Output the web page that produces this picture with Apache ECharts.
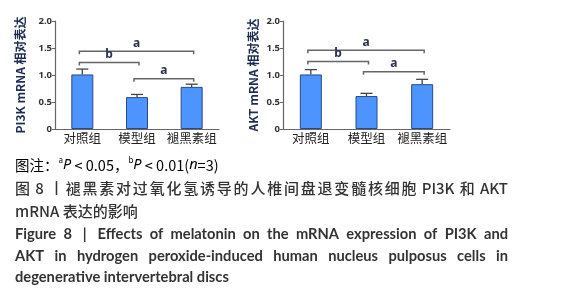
<!DOCTYPE html>
<html><head><meta charset="utf-8">
<script src="https://cdn.jsdelivr.net/npm/echarts@6/dist/echarts.min.js"></script>
<style>html,body{margin:0;padding:0;background:#fff}#c{width:588px;height:300px}</style>
</head><body><div id="c"></div>
<script>
const categories = ['对照组', '模型组', '褪黑素组'];
const yTicks = [0, 0.5, 1.0, 1.5, 2.0];
const pi3kValues = [1.01, 0.59, 0.78];
const pi3kErrors = [0.10, 0.05, 0.05];
const aktValues = [1.01, 0.61, 0.83];
const aktErrors = [0.09, 0.05, 0.09];
// brackets: [fromIndex, toIndex, height]
const pi3kBrackets = [[0, 2, 1.44], [0, 1, 1.23], [1, 2, 0.93]];
const aktBrackets = [[0, 2, 1.46], [0, 1, 1.25], [1, 2, 1.06]];
const bracketLabels = ['a', 'b', 'a'];
const yNames = ['PI3K mRNA 相对表达', 'AKT mRNA 相对表达'];

const caption1 = '图注：';
const caption2 = '图 8 丨褪黑素对过氧化氢诱导的人椎间盘退变髓核细胞 PI3K 和 AKT';
const caption3 = 'mRNA 表达的影响';
const caption4 = 'Figure 8  |  Effects of melatonin on the mRNA expression of PI3K and';
const caption5 = 'AKT in hydrogen peroxide-induced human nucleus pulposus cells in';
const caption6 = 'degenerative intervertebral discs';

const chart = echarts.init(document.getElementById('c'));

const grids = [
  {left: 55, top: 21, width: 164, height: 108},
  {left: 283, top: 21, width: 167, height: 108}
];

function xAxis(i) {
  return {
    type: 'category', gridIndex: i, data: categories,
    axisLine: {lineStyle: {color: '#666', width: 1.2}},
    axisTick: {alignWithLabel: true, length: 2, lineStyle: {color: '#666'}},
    axisLabel: {color: '#222', fontSize: 12.5, margin: 3, interval: 0, fontFamily: 'Noto Sans CJK SC'}
  };
}
function yAxis(i, gap) {
  return {
    type: 'value', gridIndex: i, min: yTicks[0], max: yTicks[yTicks.length - 1], interval: 0.5,
    name: yNames[i], nameLocation: 'middle', nameGap: gap, nameRotate: 90,
    nameTextStyle: {color: '#1f2d55', fontSize: 12, fontWeight: 'bold', fontFamily: 'Noto Sans CJK SC'},
    axisLine: {show: true, lineStyle: {color: '#666', width: 1.2}},
    axisTick: {show: true, length: 3, lineStyle: {color: '#666'}},
    splitLine: {show: false},
    axisLabel: {color: '#333', fontSize: 9.5, fontWeight: 'bold', margin: 3, fontFamily: 'Noto Sans',
      formatter: v => v === 0 ? '0' : v.toFixed(1)}
  };
}

function barSeries(i, vals) {
  return {
    type: 'bar', xAxisIndex: i, yAxisIndex: i, data: vals, barWidth: 22,
    itemStyle: {color: '#4d94ff', borderColor: '#2a4a85', borderWidth: 1}
  };
}
function errSeries(i, vals, errs) {
  return {
    type: 'custom', xAxisIndex: i, yAxisIndex: i, z: 5,
    data: vals.map((v, k) => [k, v, errs[k]]),
    encode: {x: 0, y: 1},
    renderItem: (params, api) => {
      const x = api.value(0), v = api.value(1), e = api.value(2);
      const b = api.coord([x, v]), t = api.coord([x, v + e]);
      const st = {stroke: '#444', lineWidth: 1.3};
      return {type: 'group', children: [
        {type: 'line', shape: {x1: b[0], y1: b[1], x2: t[0], y2: t[1]}, style: st},
        {type: 'line', shape: {x1: t[0] - 6, y1: t[1], x2: t[0] + 6, y2: t[1]}, style: st}
      ]};
    }
  };
}
function bracketSeries(i, br) {
  return {
    type: 'custom', xAxisIndex: i, yAxisIndex: i, z: 6,
    data: br, encode: {x: 0, y: 2},
    renderItem: (params, api) => {
      const a = api.value(0), b = api.value(1), h = api.value(2);
      const p0 = api.coord([a, h]), p1 = api.coord([b, h]);
      const x0 = p0[0] - 3, x1 = p1[0] + 2;
      return {type: 'group', children: [
        {type: 'polyline', shape: {points: [[x0, p0[1] + 3], [x0, p0[1]], [x1, p1[1]], [x1, p1[1] + 3]]},
          style: {stroke: '#666', lineWidth: 1.5, fill: null}},
        {type: 'text', style: {text: bracketLabels[params.dataIndex], x: (x0 + x1) / 2, y: p0[1] - 2,
          align: 'center', verticalAlign: 'bottom', fill: '#2b3350',
          font: 'bold 12px "Noto Sans"'}}
      ]};
    }
  };
}

// text layout helpers
const cv = document.createElement('canvas').getContext('2d');
function measure(font, s) { cv.font = font; return cv.measureText(s).width; }
function isCJK(ch) { return /[\u2E80-\u9FFF\uFF00-\uFFEF\u3000-\u303F]/.test(ch); }
function justified(str, x0, x1, y, font, fill) {
  const toks = [];
  let i = 0;
  while (i < str.length) {
    const ch = str[i];
    if (ch === ' ') { i++; continue; }
    if (isCJK(ch)) { toks.push([i, ch]); i++; continue; }
    let j = i;
    while (j < str.length && str[j] !== ' ' && !isCJK(str[j])) j++;
    toks.push([i, str.slice(i, j)]);
    i = j;
  }
  const total = measure(font, str);
  const extra = (x1 - x0) - total;
  const gap = toks.length > 1 ? extra / (toks.length - 1) : 0;
  return toks.map((t, k) => ({
    type: 'text', silent: true,
    style: {text: t[1], x: x0 + measure(font, str.slice(0, t[0])) + k * gap, y: y,
      font: font, fill: fill, verticalAlign: 'middle'}
  }));
}

const cnFont = '500 15px "Noto Sans CJK SC"';
const enFam = 'bold {s}px Lato';
const w6 = measure(enFam.replace('{s}', 14), caption6);
const enSize = 14 * 214 / w6;
const enFont = enFam.replace('{s}', enSize.toFixed(2));

const graphics = [];
graphics.push({
  type: 'text', silent: true,
  style: {
    x: 15, y: 165, verticalAlign: 'middle',
    text: '{t|' + caption1 + '}{s|a}{i|P}{t| < 0.05，}{s|b}{i|P}{t| < 0.01(}{i|n}{t|=3)}',
    rich: {
      t: {fontSize: 14.5, fontFamily: 'Noto Sans CJK SC', color: '#555'},
      i: {fontSize: 14.5, fontFamily: 'Noto Sans', fontStyle: 'italic', color: '#555'},
      s: {fontSize: 8, fontFamily: 'Noto Sans', color: '#555', verticalAlign: 'top', padding: [0, 0, 8, 0]}
    }
  }
});
graphics.push(...justified(caption2, 15, 508, 188, cnFont, '#333'));
graphics.push({type: 'text', silent: true, style: {text: caption3, x: 15, y: 211, font: cnFont, fill: '#333', verticalAlign: 'middle'}});
graphics.push(...justified(caption4, 15, 508, 234, enFont, '#333'));
graphics.push(...justified(caption5, 15, 508, 256, enFont, '#333'));
graphics.push({type: 'text', silent: true, style: {text: caption6, x: 15, y: 277, font: enFont, fill: '#333', verticalAlign: 'middle'}});

chart.setOption({
  animation: false,
  grid: grids,
  xAxis: [xAxis(0), xAxis(1)],
  yAxis: [yAxis(0, 29), yAxis(1, 24)],
  series: [
    barSeries(0, pi3kValues), errSeries(0, pi3kValues, pi3kErrors), bracketSeries(0, pi3kBrackets),
    barSeries(1, aktValues), errSeries(1, aktValues, aktErrors), bracketSeries(1, aktBrackets)
  ],
  graphic: graphics
});
</script></body></html>
